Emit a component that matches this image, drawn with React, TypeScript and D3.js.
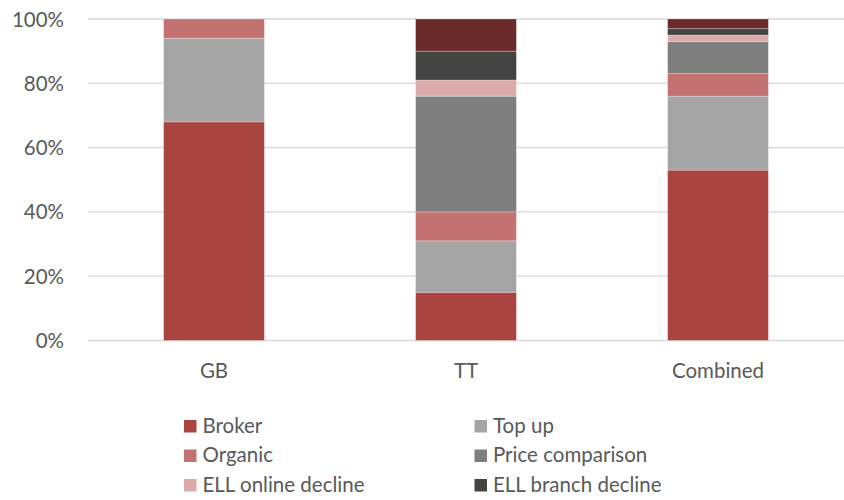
import React from "react";
import * as d3 from "d3";

const categories = ["GB", "TT", "Combined"];
const seriesNames = ["Broker", "Top up", "Organic", "Price comparison", "ELL online decline", "ELL branch decline", "Other"];
const broker = [68, 15, 53];
const topUp = [26, 16, 23];
const organic = [6, 9, 7];
const priceComparison = [0, 36, 10];
const ellOnline = [0, 5, 2];
const ellBranch = [0, 9, 2];
const other = [0, 10, 3];
const yTicks = [0, 20, 40, 60, 80, 100];
const legendVisibleCount = 6;
const colors = ["#AA4441", "#A5A5A5", "#C47171", "#7F7F7F", "#DCAAAA", "#444444", "#6A2A2A"];

const W = 844, H = 500;
const left = 88, right = 844, top = 19, bottom = 340.5;
const FONT = "Lato, 'Open Sans', sans-serif";
const FS = 20.5;

export default function App() {
  const seriesVals = [broker, topUp, organic, priceComparison, ellOnline, ellBranch, other];
  const rows = categories.map((c, i) => {
    const r: any = { cat: c };
    seriesNames.forEach((s, j) => (r[s] = seriesVals[j][i]));
    return r;
  });
  const stacked = d3.stack<any>().keys(seriesNames)(rows);
  const x = d3.scaleBand().domain(categories).range([left, right]).paddingInner(0.6).paddingOuter(0.3);
  const y = d3.scaleLinear().domain([0, 100]).range([bottom, top]);
  const bw = x.bandwidth();

  return (
    <svg width={W} height={H} style={{ position: "absolute", left: 0, top: 0, background: "#fff" }}>
      {yTicks.map((t) => (
        <g key={t}>
          <line x1={left} x2={right} y1={y(t)} y2={y(t)} stroke="#D9D9D9" strokeWidth={1.3} />
          <text x={64} y={y(t) + 7.5} textAnchor="end" fontFamily={FONT} fontSize={FS} fill="#595959">
            {t}%
          </text>
        </g>
      ))}
      {stacked.map((s, j) => (
        <g key={s.key} fill={colors[j]}>
          {s.map((d, i) =>
            d[1] - d[0] > 0 ? (
              <rect
                key={i}
                x={x(categories[i])!}
                width={bw}
                y={y(d[1])}
                height={y(d[0]) - y(d[1])}
                stroke="#ffffff"
                strokeOpacity={0.35}
                strokeWidth={0.8}
              />
            ) : null
          )}
        </g>
      ))}
      {categories.map((c) => (
        <text key={c} x={x(c)! + bw / 2} y={378} textAnchor="middle" fontFamily={FONT} fontSize={FS} fill="#595959">
          {c}
        </text>
      ))}
      {seriesNames.slice(0, legendVisibleCount).map((s, j) => {
        const col = j % 2;
        const row = Math.floor(j / 2);
        const sx = col === 0 ? 184 : 474.5;
        const sy = 420 + row * 29.5;
        return (
          <g key={s}>
            <rect x={sx} y={sy} width={12.5} height={12.5} fill={colors[j]} />
            <text x={sx + 18.5} y={sy + 12.8} fontFamily={FONT} fontSize={FS} fill="#595959">
              {s}
            </text>
          </g>
        );
      })}
    </svg>
  );
}
